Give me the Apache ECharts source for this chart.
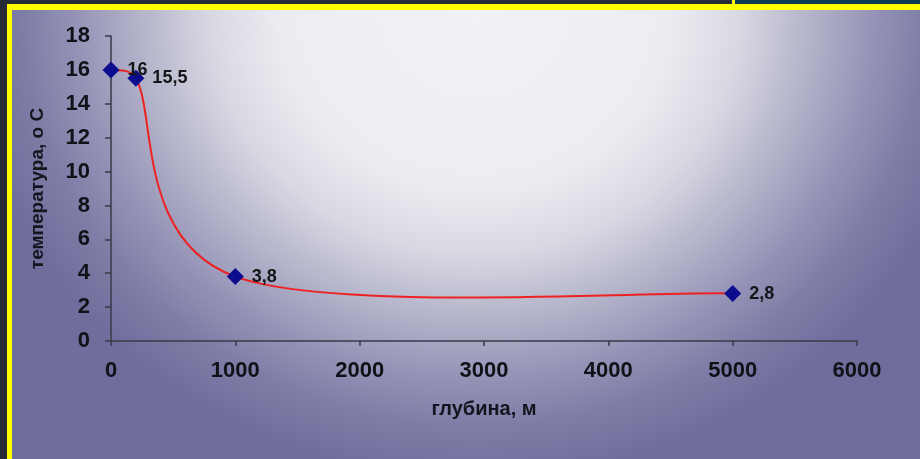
<!DOCTYPE html>
<html>
<head>
<meta charset="utf-8">
<script src="https://cdn.jsdelivr.net/npm/echarts@6/dist/echarts.min.js"></script>
<style>
  html, body { margin: 0; padding: 0; width: 920px; height: 459px; overflow: hidden; background: #272b35; }
  #topRight { position: absolute; left: 735px; top: 0; width: 185px; height: 4px; background: #0b3a4e; }
  #notch { position: absolute; left: 732px; top: 0; width: 3px; height: 4px; background: #ffff00; }
  #frame {
    position: absolute; left: 7px; top: 4px; width: 913px; height: 455px;
    box-sizing: border-box; border-top: 6px solid #ffff00; border-left: 5px solid #ffff00;
    background: radial-gradient(ellipse 510px 470px at 463px 0px,
      #f2f2f6 0%, #ececf1 38%, #d8d8e3 52%, #b0b0c8 67%, #9594b7 78%, #7f7ea7 88%, #6f6d9b 100%);
  }
  #chart { position: absolute; left: 0; top: 0; width: 920px; height: 459px; }
</style>
</head>
<body>
<div id="topRight"></div>
<div id="notch"></div>
<div id="frame"></div>
<div id="chart"></div>
<script>
// Temperature vs. depth
var depths = [0, 200, 1000, 5000];
var temperatures = [16, 15.5, 3.8, 2.8];
var xTicks = [0, 1000, 2000, 3000, 4000, 5000, 6000];
var yTicks = [0, 2, 4, 6, 8, 10, 12, 14, 16, 18];

var points = depths.map(function (d, i) { return [d, temperatures[i]]; });

var axisFont = 'Liberation Sans, Arial, sans-serif';

// Catmull-Rom style smoothing in pixel space: one cubic Bezier per segment.
// Control arms are limited to half of the segment length to avoid loops on short segments.
function controlOffset(a, b, segLen) {
  var vx = b[0] - a[0], vy = b[1] - a[1];
  var len = Math.sqrt(vx * vx + vy * vy) || 1;
  var arm = Math.min(len / 6, segLen / 2);
  return [vx / len * arm, vy / len * arm];
}

function renderSegment(params, api) {
  var i = params.dataIndex;
  if (i >= points.length - 1) return null;
  var px = points.map(function (p) { return api.coord(p); });
  var p0 = px[Math.max(i - 1, 0)], p1 = px[i], p2 = px[i + 1], p3 = px[Math.min(i + 2, px.length - 1)];
  var seg = Math.sqrt(Math.pow(p2[0] - p1[0], 2) + Math.pow(p2[1] - p1[1], 2));
  var o1 = controlOffset(p0, p2, seg);
  var o2 = controlOffset(p1, p3, seg);
  return {
    type: 'bezierCurve',
    shape: {
      x1: p1[0], y1: p1[1],
      cpx1: p1[0] + o1[0], cpy1: p1[1] + o1[1],
      cpx2: p2[0] - o2[0], cpy2: p2[1] - o2[1],
      x2: p2[0], y2: p2[1]
    },
    style: { stroke: '#ee2222', lineWidth: 2, fill: null }
  };
}

var chart = echarts.init(document.getElementById('chart'), null, { renderer: 'canvas' });

chart.setOption({
  backgroundColor: 'transparent',
  animation: false,
  grid: { left: 111, right: 63, top: 36, bottom: 118 },
  xAxis: {
    type: 'value',
    min: xTicks[0], max: xTicks[xTicks.length - 1], interval: 1000,
    name: 'глубина, м',
    nameLocation: 'middle',
    nameGap: 58,
    nameTextStyle: { fontFamily: axisFont, fontWeight: 'bold', fontSize: 20, color: '#15151f' },
    axisLine: { show: true, lineStyle: { color: '#3a3a48', width: 1.5 } },
    axisTick: { show: true, inside: false, length: 5, lineStyle: { color: '#3a3a48', width: 1.5 } },
    axisLabel: {
      margin: 19, fontFamily: axisFont, fontWeight: 'bold', fontSize: 22, color: '#111118',
      formatter: function (v) { return String(v); }
    },
    splitLine: { show: false }
  },
  yAxis: {
    type: 'value',
    min: yTicks[0], max: yTicks[yTicks.length - 1], interval: 2,
    name: 'температура, о С',
    nameLocation: 'middle',
    nameGap: 64,
    nameRotate: 90,
    nameTextStyle: { fontFamily: axisFont, fontWeight: 'bold', fontSize: 19, color: '#15151f' },
    axisLine: { show: true, lineStyle: { color: '#3a3a48', width: 1.5 } },
    axisTick: { show: true, inside: false, length: 6, lineStyle: { color: '#3a3a48', width: 1.5 } },
    axisLabel: {
      margin: 21, fontFamily: axisFont, fontWeight: 'bold', fontSize: 22, color: '#111118',
      formatter: function (v) { return String(v); }
    },
    splitLine: { show: false }
  },
  series: [
    {
      type: 'custom',
      data: points,
      renderItem: renderSegment,
      clip: false,
      silent: true,
      z: 2
    },
    {
      type: 'scatter',
      data: points,
      symbol: 'diamond',
      symbolSize: 17,
      itemStyle: { color: '#0c0c8e', opacity: 1 },
      label: {
        show: true,
        position: 'right',
        distance: 8,
        fontFamily: axisFont,
        fontWeight: 'bold',
        fontSize: 18,
        color: '#15151a',
        formatter: function (p) { return String(p.value[1]).replace('.', ','); }
      },
      z: 3
    }
  ]
});
</script>
</body>
</html>
